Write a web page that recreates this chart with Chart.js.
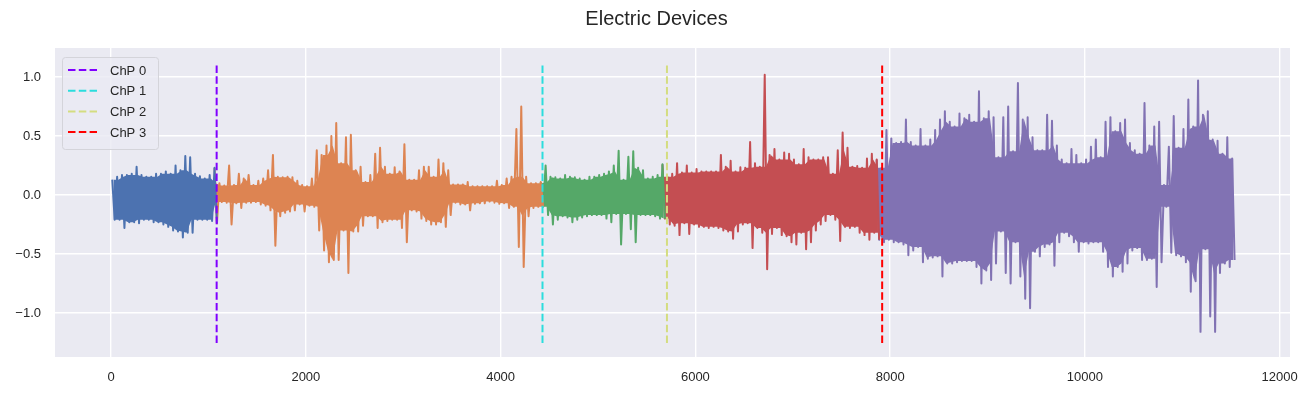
<!DOCTYPE html>
<html>
<head>
<meta charset="utf-8">
<title>Electric Devices</title>
<script src="https://cdn.jsdelivr.net/npm/chart.js@4.4.1/dist/chart.umd.min.js"></script>
<style>
  body { margin: 0; background: #ffffff; }
  #chart { display: block; }
</style>
</head>
<body>
<canvas id="chart" width="1313" height="395"></canvas>
<script>
// envelope of the signal: max and min of every 50-sample window
const hi = [
  0.13, 0.155, 0.17, 0.17, 0.18, 0.24, 0.17, 0.155, 0.155, 0.18,
  0.18, 0.2, 0.18, 0.25, 0.21, 0.33, 0.32, 0.18, 0.16, 0.14,
  0.17, 0.23, 0.10, 0.08, 0.25, 0.085, 0.18, 0.14, 0.17, 0.085,
  0.12, 0.14, 0.21, 0.34, 0.155, 0.15, 0.155, 0.15, 0.12, 0.085,
  0.075, 0.14, 0.38, 0.34, 0.42, 0.50, 0.61, 0.27, 0.49, 0.51,
  0.21, 0.24, 0.11, 0.17, 0.35, 0.40, 0.24, 0.18, 0.235, 0.20,
  0.43, 0.13, 0.13, 0.21, 0.24, 0.24, 0.155, 0.30, 0.27, 0.21,
  0.09, 0.09, 0.09, 0.11, 0.075, 0.075, 0.075, 0.075, 0.075, 0.12,
  0.085, 0.14, 0.155, 0.56, 0.75, 0.155, 0.10, 0.10, 0.11, 0.25,
  0.155, 0.15, 0.14, 0.17, 0.155, 0.15, 0.14, 0.13, 0.155, 0.155,
  0.17, 0.18, 0.20, 0.25, 0.375, 0.13, 0.325, 0.37, 0.23, 0.21,
  0.14, 0.155, 0.17, 0.26, 0.155, 0.18, 0.27, 0.19, 0.25, 0.19,
  0.22, 0.20, 0.20, 0.20, 0.20, 0.34, 0.24, 0.29, 0.20, 0.235,
  0.23, 0.45, 0.27, 0.24, 1.02, 0.34, 0.39, 0.30, 0.36, 0.35,
  0.30, 0.26, 0.39, 0.32, 0.30, 0.30, 0.32, 0.32, 0.18, 0.38,
  0.53, 0.40, 0.24, 0.245, 0.23, 0.31, 0.35, 0.30, 0.23, 0.55,
  0.48, 0.44, 0.45, 0.64, 0.45, 0.42, 0.56, 0.42, 0.47, 0.55,
  0.64, 0.71, 0.62, 0.58, 0.69, 0.65, 0.68, 0.62, 0.88, 0.65,
  0.71, 0.66, 0.32, 0.66, 0.75, 0.37, 0.95, 0.64, 0.66, 0.49,
  0.38, 0.38, 0.68, 0.63, 0.42, 0.30, 0.27, 0.39, 0.34, 0.27,
  0.30, 0.41, 0.47, 0.32, 0.62, 0.66, 0.54, 0.61, 0.64, 0.44,
  0.38, 0.35, 0.78, 0.42, 0.58, 0.62, 0.085, 0.41, 0.67, 0.40,
  0.56, 0.81, 0.58, 0.97, 0.68, 0.71, 0.47, 0.46, 0.35, 0.49,
  0.31
];
const lo = [
  -0.21, -0.21, -0.28, -0.23, -0.23, -0.24, -0.21, -0.21, -0.23, -0.23,
  -0.25, -0.27, -0.30, -0.31, -0.36, -0.32, -0.32, -0.21, -0.21, -0.21,
  -0.22, -0.24, -0.06, -0.065, -0.25, -0.07, -0.11, -0.065, -0.065, -0.06,
  -0.08, -0.09, -0.13, -0.43, -0.18, -0.15, -0.14, -0.13, -0.08, -0.14,
  -0.09, -0.10, -0.30, -0.47, -0.57, -0.55, -0.55, -0.30, -0.66, -0.31,
  -0.31, -0.26, -0.18, -0.18, -0.28, -0.23, -0.22, -0.21, -0.21, -0.28,
  -0.40, -0.13, -0.14, -0.20, -0.22, -0.25, -0.25, -0.23, -0.27, -0.17,
  -0.065, -0.08, -0.08, -0.13, -0.075, -0.07, -0.07, -0.055, -0.065, -0.075,
  -0.07, -0.11, -0.10, -0.44, -0.61, -0.18, -0.11, -0.10, -0.10, -0.17,
  -0.25, -0.21, -0.18, -0.19, -0.23, -0.21, -0.19, -0.18, -0.17, -0.17,
  -0.17, -0.20, -0.23, -0.16, -0.42, -0.16, -0.29, -0.40, -0.17, -0.17,
  -0.17, -0.18, -0.20, -0.20, -0.25, -0.26, -0.34, -0.24, -0.33, -0.25,
  -0.27, -0.27, -0.28, -0.27, -0.28, -0.30, -0.31, -0.37, -0.31, -0.25,
  -0.24, -0.45, -0.28, -0.32, -0.63, -0.33, -0.28, -0.34, -0.35, -0.40,
  -0.42, -0.32, -0.46, -0.40, -0.30, -0.25, -0.22, -0.17, -0.21, -0.39,
  -0.27, -0.28, -0.27, -0.32, -0.34, -0.38, -0.32, -0.38, -0.40, -0.38,
  -0.40, -0.40, -0.42, -0.51, -0.47, -0.44, -0.57, -0.54, -0.53, -0.52,
  -0.69, -0.58, -0.58, -0.57, -0.56, -0.56, -0.56, -0.61, -0.75, -0.64,
  -0.72, -0.58, -0.31, -0.66, -0.75, -0.40, -0.69, -0.88, -0.96, -0.48,
  -0.52, -0.44, -0.42, -0.60, -0.40, -0.32, -0.35, -0.40, -0.48, -0.40,
  -0.41, -0.40, -0.40, -0.48, -0.61, -0.69, -0.61, -0.65, -0.58, -0.47,
  -0.45, -0.55, -0.55, -0.54, -0.78, -0.57, -0.10, -0.49, -0.51, -0.52,
  -0.57, -0.82, -0.73, -1.16, -0.46, -1.03, -1.16, -0.66, -0.58, -0.61,
  -0.55
];
const windowSize = 50;

const changePoints = [1084, 4430, 5708, 7918];
const changeLabels = ['ChP 0', 'ChP 1', 'ChP 2', 'ChP 3'];
const changeColors = ['#8000ff', '#2bdddd', '#d4dd80', '#ff0000'];
const changeLow = -1.254;
const changeHigh = 1.11;

const segmentColors = ['#4c72b0', '#dd8452', '#55a868', '#c44e52', '#8172b3'];

const xTicks = [0, 2000, 4000, 6000, 8000, 10000, 12000];
const yTicks = [-1.0, -0.5, 0.0, 0.5, 1.0];

// dense body of the trace: the part every neighbouring window reaches
const near = (arr, i) => [arr[i - 1], arr[i], arr[i + 1]].filter(v => v !== undefined);
const bodyHi = hi.map((v, i) => Math.min(...near(hi, i)));
const bodyLo = lo.map((v, i) => Math.max(...near(lo, i)));

const bounds = [0, ...changePoints, Infinity];
const centre = i => i * windowSize + windowSize / 2;
const datasets = [];
segmentColors.forEach((color, k) => {
  const idx = [];
  hi.forEach((h, i) => {
    const x = centre(i);
    if (x >= bounds[k] && x < bounds[k + 1]) idx.push(i);
  });
  if (k > 0) idx.unshift(idx[0] - 1);
  const base = {
    borderColor: color,
    backgroundColor: color,
    pointRadius: 0,
    tension: 0,
    order: 2,
  };
  // body band
  datasets.push({ ...base, borderWidth: 0, data: idx.map(i => ({ x: centre(i), y: bodyHi[i] })), fill: '+1' });
  datasets.push({ ...base, borderWidth: 0, data: idx.map(i => ({ x: centre(i), y: bodyLo[i] })), fill: false });
  // the trace itself, zig-zagging between window max and min
  const trace = [];
  idx.forEach(i => {
    trace.push({ x: i * windowSize + 12, y: hi[i] });
    trace.push({ x: i * windowSize + 37, y: lo[i] });
  });
  datasets.push({ ...base, borderWidth: 2, borderJoinStyle: 'round', data: trace, fill: false });
});
changePoints.forEach((cp, k) => {
  datasets.push({
    label: changeLabels[k],
    data: [{ x: cp, y: changeLow }, { x: cp, y: changeHigh }],
    borderColor: changeColors[k],
    borderWidth: 2,
    borderDash: [7.5, 3.3],
    pointRadius: 0,
    fill: false,
    order: 1,
  });
});

const textColor = '#262626';
const fontFamily = '"Liberation Sans", Arial, sans-serif';

const plotBackground = {
  id: 'plotBackground',
  beforeDraw(chart) {
    const { ctx, chartArea: a } = chart;
    ctx.save();
    ctx.fillStyle = '#eaeaf2';
    ctx.fillRect(a.left, a.top, a.right - a.left, a.bottom - a.top);
    ctx.restore();
  }
};

const titleAndLegend = {
  id: 'titleAndLegend',
  afterDraw(chart) {
    const ctx = chart.ctx;
    ctx.save();
    ctx.fillStyle = textColor;
    ctx.font = '20px ' + fontFamily;
    ctx.textAlign = 'center';
    ctx.textBaseline = 'middle';
    ctx.fillText('Electric Devices', chart.width / 2, 19);

    // legend box, upper left inside the axes
    const x0 = 62, y0 = 57, w = 96, h = 92, r = 3;
    ctx.beginPath();
    ctx.roundRect(x0 + 0.5, y0 + 0.5, w, h, r);
    ctx.fillStyle = 'rgba(234, 234, 242, 0.8)';
    ctx.fill();
    ctx.strokeStyle = '#d4d4da';
    ctx.lineWidth = 1;
    ctx.stroke();

    ctx.font = '13px ' + fontFamily;
    ctx.textAlign = 'left';
    chart.data.datasets.filter(d => d.label).forEach((d, i) => {
      const y = 70 + i * 20.7;
      ctx.beginPath();
      ctx.setLineDash(d.borderDash);
      ctx.strokeStyle = d.borderColor;
      ctx.lineWidth = 2;
      ctx.moveTo(68, y);
      ctx.lineTo(97, y);
      ctx.stroke();
      ctx.setLineDash([]);
      ctx.fillStyle = textColor;
      ctx.fillText(d.label, 110, y + 1);
    });
    ctx.restore();
  }
};

const config = {
  type: 'line',
  data: { datasets },
  options: {
    responsive: false,
    animation: false,
    layout: { padding: { top: 48, right: 23, left: 0, bottom: 0 } },
    plugins: {
      legend: { display: false },
      tooltip: { enabled: false },
    },
    scales: {
      x: {
        type: 'linear',
        min: -576,
        max: 12106,
        afterBuildTicks: scale => { scale.ticks = xTicks.map(v => ({ value: v })); },
        afterFit: scale => { scale.height = 38; },
        grid: { color: '#ffffff', lineWidth: 1.4, drawTicks: false },
        border: { display: false },
        ticks: {
          autoSkip: false,
          maxRotation: 0,
          padding: 13,
          color: textColor,
          font: { family: fontFamily, size: 13 },
          callback: v => String(v),
        },
      },
      y: {
        min: -1.373,
        max: 1.246,
        afterBuildTicks: scale => { scale.ticks = yTicks.map(v => ({ value: v })); },
        afterFit: scale => { scale.width = 55; },
        grid: { color: '#ffffff', lineWidth: 1.4, drawTicks: false },
        border: { display: false },
        ticks: {
          padding: 14,
          color: textColor,
          font: { family: fontFamily, size: 13 },
          callback: v => (v < 0 ? '\u2212' : '') + Math.abs(v).toFixed(1),
        },
      },
    },
  },
  plugins: [plotBackground, titleAndLegend],
};

const myChart = new Chart(document.getElementById('chart'), config);
</script>
</body>
</html>
